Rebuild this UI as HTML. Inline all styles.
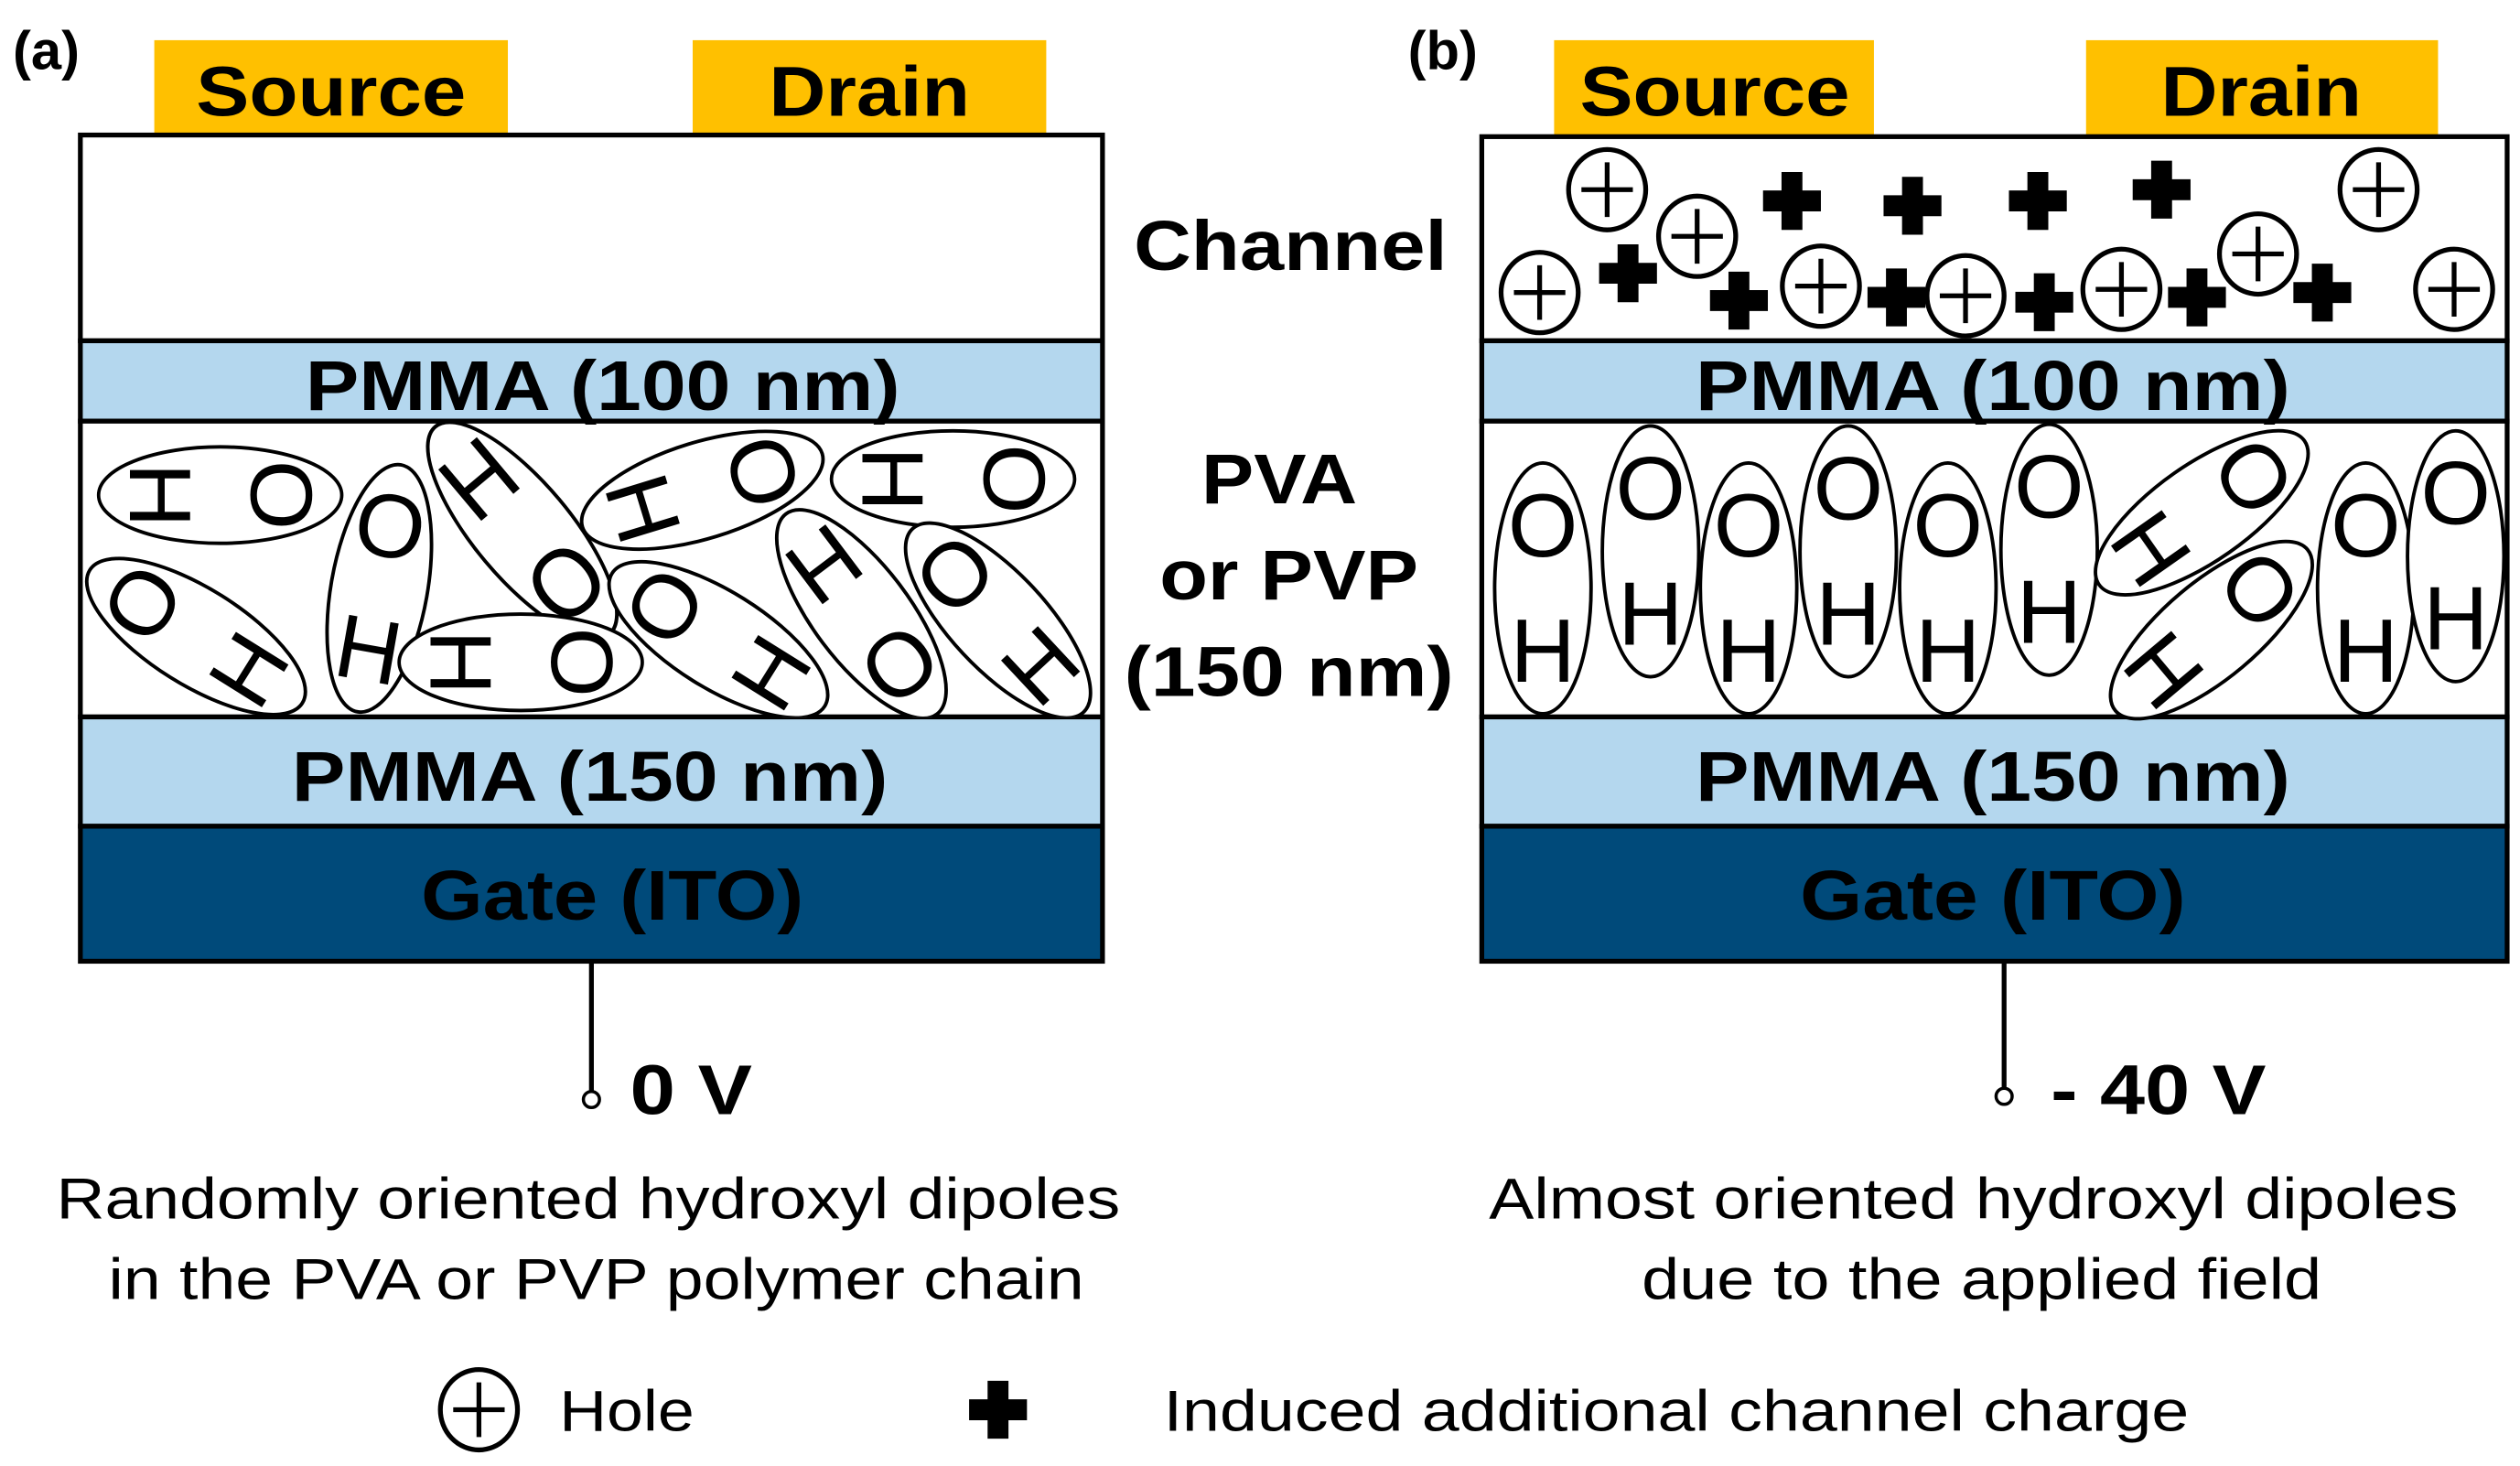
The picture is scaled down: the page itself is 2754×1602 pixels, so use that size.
<!DOCTYPE html>
<html><head><meta charset="utf-8"><style>
html,body{margin:0;padding:0;background:#fff;}
svg{display:block;}
text{font-family:"Liberation Sans",Arial,sans-serif;}
.b{font-weight:bold;}
.L{font-size:56px;fill:#000;}
</style></head><body>
<svg width="2754" height="1602" viewBox="0 0 1568 912" preserveAspectRatio="none" xmlns="http://www.w3.org/2000/svg">
<defs>
<g id="hole"><ellipse cx="0" cy="0" rx="24" ry="25" fill="#fff" stroke="#000" stroke-width="3"/><path d="M-16 0H16M0 -17V17" stroke="#000" stroke-width="3"/></g>
<path id="plus" d="M-6.5 -18H6.5V-6.5H18V6.5H6.5V18H-6.5V6.5H-18V-6.5H-6.5Z" fill="#000"/>
<g id="dip"><ellipse cx="0" cy="0" rx="30" ry="78" fill="#fff" stroke="#000" stroke-width="2.2"/><text x="0" y="-20" text-anchor="middle" class="L">O</text><text x="0" y="58" text-anchor="middle" class="L">H</text></g>
</defs>

<!-- Panel a -->
<text x="8" y="43" class="b" font-size="34">(a)</text>
<rect x="96" y="25" width="220" height="59" fill="#FFC000"/>
<rect x="431" y="25" width="220" height="59" fill="#FFC000"/>
<text x="206" y="72" text-anchor="middle" class="b" font-size="44" textLength="168" lengthAdjust="spacingAndGlyphs">Source</text>
<text x="541" y="72" text-anchor="middle" class="b" font-size="44" textLength="125" lengthAdjust="spacingAndGlyphs">Drain</text>
<rect x="50" y="84" width="636" height="128" fill="#fff" stroke="#000" stroke-width="3"/>
<rect x="50" y="212" width="636" height="50" fill="#B4D7EE" stroke="#000" stroke-width="3"/>
<rect x="50" y="262" width="636" height="184" fill="#fff" stroke="#000" stroke-width="3"/>
<rect x="50" y="446" width="636" height="68" fill="#B4D7EE" stroke="#000" stroke-width="3"/>
<rect x="50" y="514" width="636" height="84" fill="#004A7A" stroke="#000" stroke-width="3"/>
<text x="375" y="255" text-anchor="middle" class="b" font-size="44" textLength="370" lengthAdjust="spacingAndGlyphs">PMMA (100 nm)</text>
<text x="367" y="498" text-anchor="middle" class="b" font-size="44" textLength="371" lengthAdjust="spacingAndGlyphs">PMMA (150 nm)</text>
<text x="381" y="572" text-anchor="middle" class="b" font-size="44" textLength="238" lengthAdjust="spacingAndGlyphs" fill="#000">Gate (ITO)</text>
<svg x="50" y="262" width="636" height="184" viewBox="50 262 636 184" overflow="hidden">
<g transform="translate(137,308) rotate(90) scale(1,0.97)"><use href="#dip"/></g>
<g transform="translate(236,366) rotate(10)"><use href="#dip"/></g>
<g transform="translate(325,330) rotate(140) scale(1,1.08)"><use href="#dip"/></g>
<g transform="translate(437,305) rotate(73)"><use href="#dip"/></g>
<g transform="translate(593,298) rotate(90) scale(1,0.97)"><use href="#dip"/></g>
<g transform="translate(122,396) rotate(-58)"><use href="#dip"/></g>
<g transform="translate(324,412) rotate(90) scale(1,0.97)"><use href="#dip"/></g>
<g transform="translate(447,398) rotate(-58)"><use href="#dip"/></g>
<g transform="translate(536,382) rotate(143)"><use href="#dip"/></g>
<g transform="translate(621,386) rotate(-43)"><use href="#dip"/></g>
</svg>
<line x1="368" y1="598" x2="368" y2="679" stroke="#000" stroke-width="3"/>
<circle cx="368" cy="684" r="5" fill="#fff" stroke="#000" stroke-width="2"/>
<text x="392" y="693" class="b" font-size="44" textLength="76" lengthAdjust="spacingAndGlyphs">0 V</text>
<text x="366" y="758" text-anchor="middle" font-size="36" textLength="662" lengthAdjust="spacingAndGlyphs">Randomly oriented hydroxyl dipoles</text>
<text x="371" y="808" text-anchor="middle" font-size="36" textLength="607" lengthAdjust="spacingAndGlyphs">in the PVA or PVP polymer chain</text>

<!-- middle labels -->
<text x="803" y="168" text-anchor="middle" class="b" font-size="44" textLength="195" lengthAdjust="spacingAndGlyphs">Channel</text>
<text x="796" y="313" text-anchor="middle" class="b" font-size="44" textLength="97" lengthAdjust="spacingAndGlyphs">PVA</text>
<text x="802" y="373" text-anchor="middle" class="b" font-size="44" textLength="161" lengthAdjust="spacingAndGlyphs">or PVP</text>
<text x="802" y="433" text-anchor="middle" class="b" font-size="44" textLength="205" lengthAdjust="spacingAndGlyphs">(150 nm)</text>

<!-- Panel b -->
<text x="876" y="43" class="b" font-size="34">(b)</text>
<rect x="967" y="25" width="199" height="59" fill="#FFC000"/>
<rect x="1298" y="25" width="219" height="59" fill="#FFC000"/>
<text x="1067" y="72" text-anchor="middle" class="b" font-size="44" textLength="168" lengthAdjust="spacingAndGlyphs">Source</text>
<text x="1407" y="72" text-anchor="middle" class="b" font-size="44" textLength="125" lengthAdjust="spacingAndGlyphs">Drain</text>
<rect x="922" y="85" width="638" height="127" fill="#fff" stroke="#000" stroke-width="3"/>
<rect x="922" y="212" width="638" height="50" fill="#B4D7EE" stroke="#000" stroke-width="3"/>
<rect x="922" y="262" width="638" height="184" fill="#fff" stroke="#000" stroke-width="3"/>
<rect x="922" y="446" width="638" height="68" fill="#B4D7EE" stroke="#000" stroke-width="3"/>
<rect x="922" y="514" width="638" height="84" fill="#004A7A" stroke="#000" stroke-width="3"/>
<text x="1240" y="255" text-anchor="middle" class="b" font-size="44" textLength="370" lengthAdjust="spacingAndGlyphs">PMMA (100 nm)</text>
<text x="1240" y="498" text-anchor="middle" class="b" font-size="44" textLength="370" lengthAdjust="spacingAndGlyphs">PMMA (150 nm)</text>
<text x="1240" y="572" text-anchor="middle" class="b" font-size="44" textLength="240" lengthAdjust="spacingAndGlyphs">Gate (ITO)</text>
<!-- channel charges -->
<use href="#plus" x="1115" y="125"/><use href="#plus" x="1190" y="128"/><use href="#plus" x="1268" y="125"/><use href="#plus" x="1345" y="118"/>
<use href="#plus" x="1013" y="170"/><use href="#plus" x="1082" y="187"/><use href="#plus" x="1180" y="185"/><use href="#plus" x="1272" y="188"/><use href="#plus" x="1367" y="185"/><use href="#plus" x="1445" y="182"/>
<use href="#hole" x="1000" y="118"/><use href="#hole" x="1056" y="147"/><use href="#hole" x="958" y="182"/><use href="#hole" x="1133" y="178"/><use href="#hole" x="1223" y="184"/><use href="#hole" x="1320" y="180"/><use href="#hole" x="1405" y="158"/><use href="#hole" x="1480" y="118"/><use href="#hole" x="1527" y="180"/>
<!-- dipoles -->
<use href="#dip" x="960" y="366"/>
<use href="#dip" x="1027" y="343"/>
<use href="#dip" x="1088" y="366"/>
<use href="#dip" x="1150" y="343"/>
<use href="#dip" x="1212" y="366"/>
<use href="#dip" x="1275" y="342"/>
<g transform="translate(1370,319) rotate(55)"><use href="#dip"/></g>
<g transform="translate(1376,392) rotate(50)"><use href="#dip"/></g>
<use href="#dip" x="1472" y="366"/>
<use href="#dip" x="1528" y="346"/>
<line x1="1247" y1="598" x2="1247" y2="677" stroke="#000" stroke-width="3"/>
<circle cx="1247" cy="682" r="5" fill="#fff" stroke="#000" stroke-width="2"/>
<text x="1276" y="693" class="b" font-size="44" textLength="134" lengthAdjust="spacingAndGlyphs">- 40 V</text>
<text x="1228" y="758" text-anchor="middle" font-size="36" textLength="603" lengthAdjust="spacingAndGlyphs">Almost oriented hydroxyl dipoles</text>
<text x="1233" y="808" text-anchor="middle" font-size="36" textLength="423" lengthAdjust="spacingAndGlyphs">due to the applied field</text>

<!-- legend -->
<use href="#hole" x="298" y="877"/>
<text x="348" y="890" font-size="36" textLength="84" lengthAdjust="spacingAndGlyphs">Hole</text>
<use href="#plus" x="621" y="877"/>
<text x="724" y="890" font-size="36" textLength="638" lengthAdjust="spacingAndGlyphs">Induced additional channel charge</text>
</svg>
</body></html>
